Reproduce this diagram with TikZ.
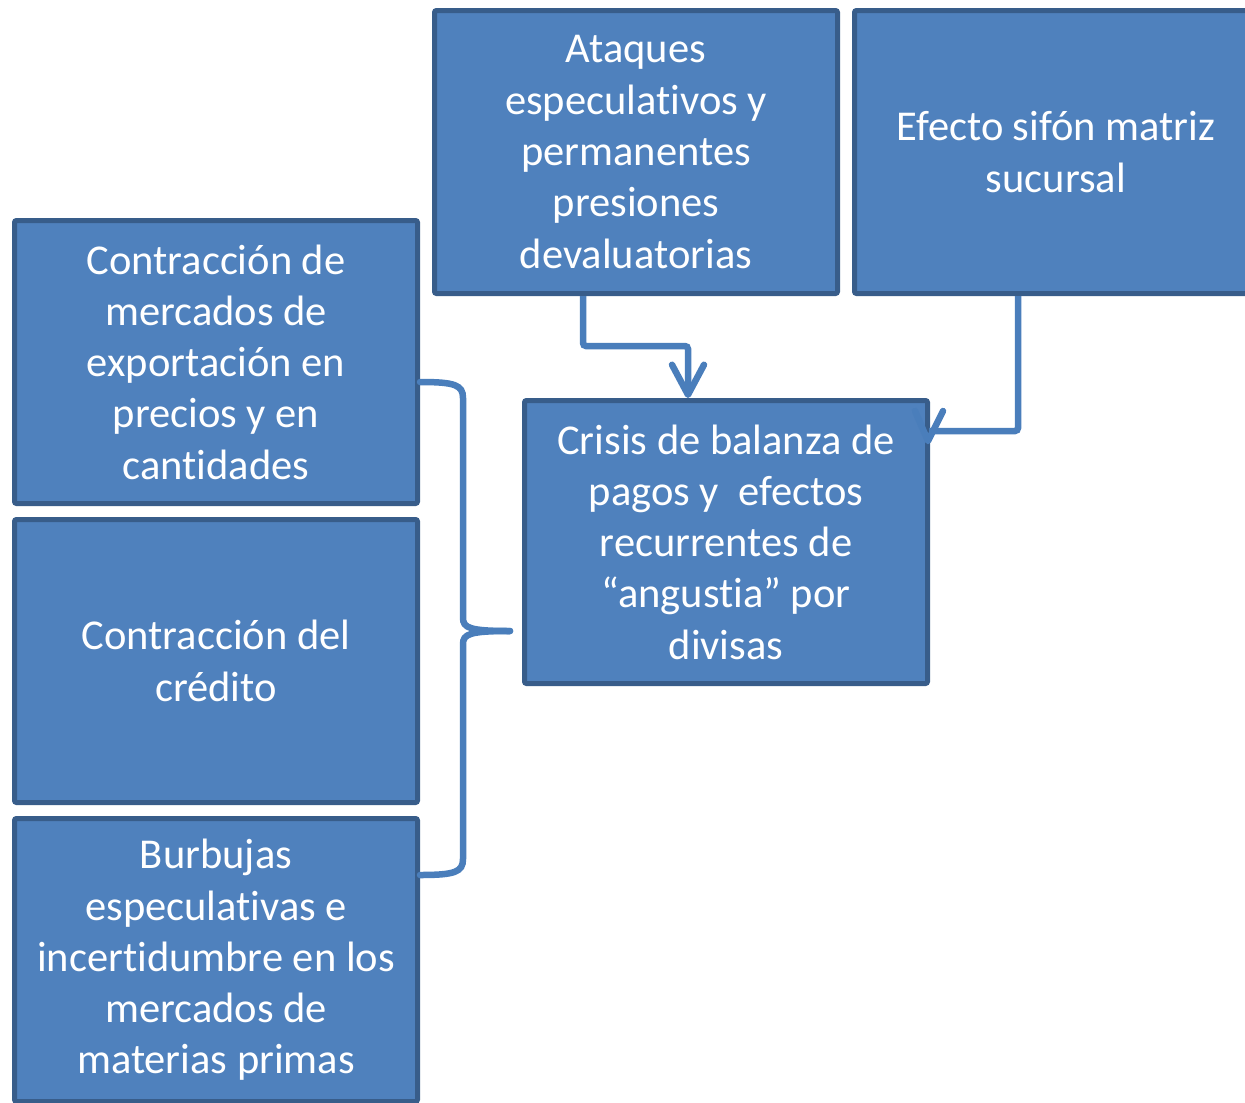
\documentclass[tikz,border=0pt]{standalone}
\usepackage{fontspec}
\setmainfont{Carlito}[RawFeature={-liga;-clig;-calt;-dlig}]
\usetikzlibrary{arrows.meta,calc}
\definecolor{boxfill}{HTML}{4F81BD}
\definecolor{boxline}{HTML}{385D8A}
\definecolor{connc}{HTML}{4A7EBB}
\newcommand\tI{t\kern0pt i}
\begin{document}
\begin{tikzpicture}[x=1pt,y=-1pt,
  box/.style={draw=boxline, line width=5pt, fill=boxfill, text=white,
    minimum width=403pt, minimum height=283pt, align=center, inner sep=0pt,
    font=\fontsize{42.5}{51.3}\selectfont, rounded corners=2pt},
  conn/.style={draw=connc, line width=6.5pt, rounded corners=3pt},
  tipv/.style={draw=connc, line width=6.5pt, line cap=round, line join=round}]
\useasboundingbox (0,0) rectangle (1245,1103);
\node[box] (A) at (216,362) {Contracción de\\mercados de\\exportación en\\precios y en\\can\tI dades};
\node[box] (B) at (216,661) {Contracción del\\crédito};
\node[box] (C) at (216,960) {Burbujas\\especula\tI vas e\\incer\tI dumbre en los\\mercados de\\materias primas};
\node[box] (D) at (636,152) {Ataques\\especula\tI vos y\\permanentes\\presiones\\devaluatorias};
\node[box] (E) at (1056,152) {Efecto sifón matriz\\sucursal};
\node[box] (F) at (726,542) {Crisis de balanza de\\pagos y~ efectos\\recurrentes de\\“angus\tI a” por\\divisas};
% connector D -> F
\draw[conn, -{Straight Barb[length=30pt,width=32pt,line cap=round,line join=round]}]
  ($(D.south)+(-53,0)$) |- ($(F.north)+(-38,-52)$) -- ($(F.north)+(-38,0)$);
% connector E -> F
\coordinate (Fne) at (F.north east);
\draw[conn] ($(E.south)+(-38,0)$) |- ($(Fne)+(-1,33)$);
\draw[tipv] ($(Fne)+(-15,13)$) -- ($(Fne)+(-2,43)$) -- ($(Fne)+(13,13)$);
% brace
\coordinate (bt) at ($(A.east)+(0,20)$);
\coordinate (bb) at ($(C.east)+(0,-85)$);
\coordinate (bx) at ($(F.west)+(-12,89)$);
\draw[connc, line width=6.5pt, line cap=round]
  (bt) .. controls ($(bt)+(35,0)$) and ($(bt)+(43,3)$) .. ($(bt)+(43,16)$)
  -- ($(bt)+(43,236)$) .. controls ($(bt)+(43,246)$) and ($(bt)+(50,249)$) .. (bx);
\draw[connc, line width=6.5pt, line cap=round]
  (bb) .. controls ($(bb)+(35,0)$) and ($(bb)+(43,-3)$) .. ($(bb)+(43,-16)$)
  -- ($(bb)+(43,-231)$) .. controls ($(bb)+(43,-241)$) and ($(bb)+(50,-244)$) .. (bx);
\end{tikzpicture}
\end{document}
